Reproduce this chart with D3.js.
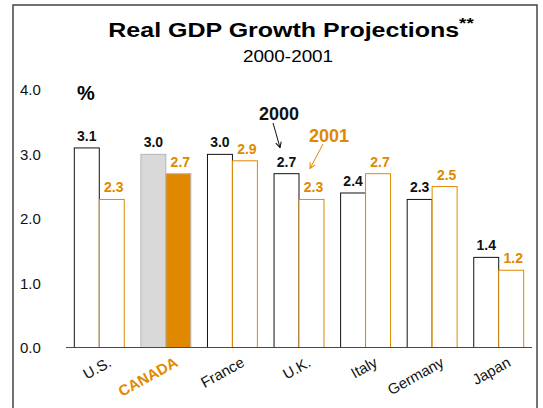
<!DOCTYPE html>
<html>
<head>
<meta charset="utf-8">
<style>
  body { margin: 0; background: #fff; }
  svg { font-family: "Liberation Sans", Arial, sans-serif; }
  .tick-label { font-size: 15px; fill: #111; }
  .val { font-size: 14px; font-weight: bold; }
  .xlab { font-size: 15px; }
</style>
</head>
<body>
<svg width="543" height="408"></svg>
<script src="https://d3js.org/d3.v7.min.js"></script>
<script>
  // chart values
  let countries = ["U.S.", "CANADA", "France", "U.K.", "Italy", "Germany", "Japan"];
  let growth2000 = [3.1, 3.0, 3.0, 2.7, 2.4, 2.3, 1.4];
  let growth2001 = [2.3, 2.7, 2.9, 2.3, 2.7, 2.5, 1.2];
  let years = ["2000", "2001"];
  let yTicks = [0, 1, 2, 3, 4];

  let orange = "#e08900";

  let svg = d3.select("svg");

  // frame
  svg.append("rect")
    .attr("x", 13).attr("y", 5)
    .attr("width", 524).attr("height", 420)
    .attr("fill", "none")
    .attr("stroke", "#444")
    .attr("stroke-width", 1.5);

  let x0 = d3.scaleBand()
    .domain(countries)
    .range([66, 532])
    .paddingInner(0.25)
    .paddingOuter(0.125);

  let x1 = d3.scaleBand()
    .domain(years)
    .range([0, x0.bandwidth()]);

  let y = d3.scaleLinear()
    .domain([0, 4])
    .range([347.5, 90]);

  // title
  let title = svg.append("g")
    .attr("transform", "translate(291,37) scale(1.25,1)")
    .append("text")
    .attr("text-anchor", "middle")
    .attr("font-size", 20)
    .attr("font-weight", "bold")
    .text("Real GDP Growth Projections");
  title.append("tspan")
    .attr("font-size", 15)
    .attr("dy", -9)
    .text("**");

  svg.append("g")
    .attr("transform", "translate(288,62) scale(1.18,1)")
    .append("text")
    .attr("text-anchor", "middle")
    .attr("font-size", 16)
    .text("2000-2001");

  // y tick labels
  svg.append("g")
    .selectAll("text")
    .data(yTicks)
    .join("text")
    .attr("class", "tick-label")
    .attr("x", 20)
    .attr("y", d => y(d))
    .attr("dy", "0.36em")
    .text(d3.format(".1f"));

  svg.append("text")
    .attr("x", 77).attr("y", 100)
    .attr("font-size", 20)
    .attr("font-weight", "bold")
    .text("%");

  // bars
  let rows = countries.map((c, i) => ({ country: c, v2000: growth2000[i], v2001: growth2001[i] }));

  let groups = svg.append("g")
    .selectAll("g")
    .data(rows)
    .join("g")
    .attr("transform", d => `translate(${x0(d.country)},0)`);

  groups.append("rect")
    .attr("x", x1("2000"))
    .attr("y", d => y(d.v2000))
    .attr("width", x1.bandwidth())
    .attr("height", d => y(0) - y(d.v2000))
    .attr("fill", d => d.country == "CANADA" ? "#d9d9d9" : "#fff")
    .attr("stroke", d => d.country == "CANADA" ? "#b5b5b5" : "#111")
    .attr("stroke-width", 1);

  groups.append("rect")
    .attr("x", x1("2001"))
    .attr("y", d => y(d.v2001))
    .attr("width", x1.bandwidth())
    .attr("height", d => y(0) - y(d.v2001))
    .attr("fill", d => d.country == "CANADA" ? orange : "#fff")
    .attr("stroke", d => d.country == "CANADA" ? "#b5b5b5" : orange)
    .attr("stroke-width", 1);

  groups.append("text")
    .attr("class", "val")
    .attr("text-anchor", "middle")
    .attr("x", x1("2000") + x1.bandwidth() / 2)
    .attr("y", d => y(d.v2000) - 7)
    .attr("fill", "#111")
    .text(d => d3.format(".1f")(d.v2000));

  groups.append("text")
    .attr("class", "val")
    .attr("text-anchor", "middle")
    .attr("x", x1("2001") + x1.bandwidth() / 2 + 2)
    .attr("y", d => y(d.v2001) - 7)
    .attr("fill", orange)
    .text(d => d3.format(".1f")(d.v2001));

  // baseline
  svg.append("line")
    .attr("x1", x0.range()[0]).attr("x2", x0.range()[1])
    .attr("y1", y(0)).attr("y2", y(0))
    .attr("stroke", "#4a3c8c")
    .attr("stroke-width", 1.2);

  // category labels
  svg.append("g")
    .selectAll("text")
    .data(countries)
    .join("text")
    .attr("class", "xlab")
    .attr("text-anchor", "end")
    .attr("transform", d => `translate(${x0(d) + x0.bandwidth() / 2 + 13},${y(0) + 18}) rotate(-29)`)
    .attr("fill", d => d == "CANADA" ? orange : "#111")
    .attr("font-weight", d => d == "CANADA" ? "bold" : "normal")
    .text(d => d);

  // annotations pointing at the U.K. labels
  let uk = x0("U.K.");
  let uk2000 = growth2000[countries.indexOf("U.K.")];
  let uk2001 = growth2001[countries.indexOf("U.K.")];

  let defs = svg.append("defs");
  [["arrBlack", "#111"], ["arrOrange", orange]].forEach(([id, col]) => {
    defs.append("marker")
      .attr("id", id)
      .attr("viewBox", "0 0 10 10")
      .attr("refX", 9).attr("refY", 5)
      .attr("markerWidth", 7).attr("markerHeight", 7)
      .attr("orient", "auto")
      .append("path")
      .attr("d", "M1,1 L9,5 L1,9")
      .attr("fill", "none")
      .attr("stroke", col)
      .attr("stroke-width", 1.5);
  });

  svg.append("text")
    .attr("x", uk + 5).attr("y", 120)
    .attr("text-anchor", "middle")
    .attr("font-size", 18)
    .attr("font-weight", "bold")
    .attr("fill", "#111")
    .text("2000");

  svg.append("line")
    .attr("x1", uk - 1).attr("y1", 123)
    .attr("x2", uk + 6).attr("y2", y(uk2000) - 26)
    .attr("stroke", "#111")
    .attr("stroke-width", 1)
    .attr("marker-end", "url(#arrBlack)");

  svg.append("text")
    .attr("x", uk + 55).attr("y", 142)
    .attr("text-anchor", "middle")
    .attr("font-size", 18)
    .attr("font-weight", "bold")
    .attr("fill", orange)
    .text("2001");

  svg.append("line")
    .attr("x1", uk + 49).attr("y1", 144)
    .attr("x2", uk + 36).attr("y2", y(uk2001) - 31)
    .attr("stroke", orange)
    .attr("stroke-width", 1)
    .attr("marker-end", "url(#arrOrange)");
</script>
</body>
</html>
